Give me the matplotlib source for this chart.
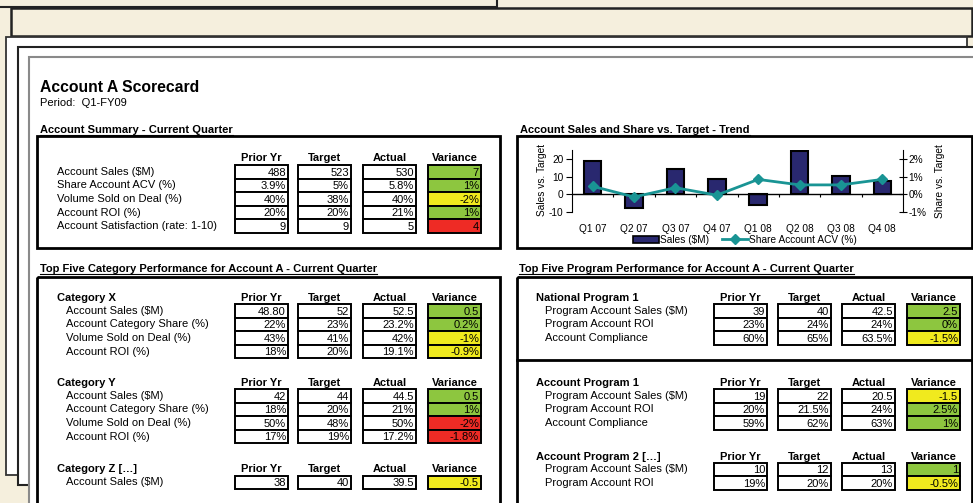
import matplotlib
matplotlib.use("Agg")
import matplotlib.pyplot as plt
from matplotlib.patches import Rectangle
from matplotlib.lines import Line2D
import numpy as np

plt.rcParams['font.family'] = ['Liberation Sans', 'DejaVu Sans']
plt.rcParams['axes.unicode_minus'] = False

# ---------------- data ----------------
col_names = ["Prior Yr", "Target", "Actual", "Variance"]

summary_labels = ["Account Sales ($M)", "Share Account ACV (%)", "Volume Sold on Deal (%)",
                  "Account ROI (%)", "Account Satisfaction (rate: 1-10)"]
summary_prior = ["488", "3.9%", "40%", "20%", "9"]
summary_target = ["523", "5%", "38%", "20%", "9"]
summary_actual = ["530", "5.8%", "40%", "21%", "5"]
summary_variance = ["7", "1%", "-2%", "1%", "4"]
summary_status = ["g", "g", "y", "g", "r"]

catx_labels = ["Account Sales ($M)", "Account Category Share (%)", "Volume Sold on Deal (%)", "Account ROI (%)"]
catx_prior = ["48.80", "22%", "43%", "18%"]
catx_target = ["52", "23%", "41%", "20%"]
catx_actual = ["52.5", "23.2%", "42%", "19.1%"]
catx_variance = ["0.5", "0.2%", "-1%", "-0.9%"]
catx_status = ["g", "g", "y", "y"]

caty_labels = ["Account Sales ($M)", "Account Category Share (%)", "Volume Sold on Deal (%)", "Account ROI (%)"]
caty_prior = ["42", "18%", "50%", "17%"]
caty_target = ["44", "20%", "48%", "19%"]
caty_actual = ["44.5", "21%", "50%", "17.2%"]
caty_variance = ["0.5", "1%", "-2%", "-1.8%"]
caty_status = ["g", "g", "r", "r"]

catz_labels = ["Account Sales ($M)"]
catz_prior = ["38"]
catz_target = ["40"]
catz_actual = ["39.5"]
catz_variance = ["-0.5"]
catz_status = ["y"]

np1_labels = ["Program Account Sales ($M)", "Program Account ROI", "Account Compliance"]
np1_prior = ["39", "23%", "60%"]
np1_target = ["40", "24%", "65%"]
np1_actual = ["42.5", "24%", "63.5%"]
np1_variance = ["2.5", "0%", "-1.5%"]
np1_status = ["g", "g", "y"]

ap1_labels = ["Program Account Sales ($M)", "Program Account ROI", "Account Compliance"]
ap1_prior = ["19", "20%", "59%"]
ap1_target = ["22", "21.5%", "62%"]
ap1_actual = ["20.5", "24%", "63%"]
ap1_variance = ["-1.5", "2.5%", "1%"]
ap1_status = ["y", "g", "g"]

ap2_labels = ["Program Account Sales ($M)", "Program Account ROI"]
ap2_prior = ["10", "19%"]
ap2_target = ["12", "20%"]
ap2_actual = ["13", "20%"]
ap2_variance = ["1", "-0.5%"]
ap2_status = ["g", "y"]

quarters = ["Q1 07", "Q2 07", "Q3 07", "Q4 07", "Q1 08", "Q2 08", "Q3 08", "Q4 08"]
sales_vs_target = [19, -7.5, 14.5, 8.5, -6, 24.5, 10.5, 7.5]
share_vs_target = [0.45, -0.15, 0.37, -0.05, 0.84, 0.53, 0.53, 0.84]

# ---------------- layout ----------------
W, H = 973, 503
CREAM = '#F5EFDD'
fig = plt.figure(figsize=(W / 100, H / 100), dpi=100)
fig.patch.set_facecolor(CREAM)
bg = fig.add_axes([0, 0, 1, 1])
bg.set_xlim(0, W)
bg.set_ylim(H, 0)
bg.axis('off')


def rect(x0, y0, x1, y1, fc='none', ec='k', lw=1.0, z=1):
    bg.add_patch(Rectangle((x0, y0), x1 - x0, y1 - y0, facecolor=fc, edgecolor=ec,
                           linewidth=lw, zorder=z))


# stacked paper sheets
rect(-20, -20, 497, 7, fc=CREAM, ec='#222222', lw=1.5, z=1)
rect(11, 8, 972, 36, fc=CREAM, ec='#222222', lw=1.8, z=2)
rect(6, 37, 967, 475, fc='white', ec='#333333', lw=1.3, z=3)
rect(18, 47, 1000, 485, fc='white', ec='#222222', lw=1.5, z=4)
rect(29, 57, 1000, 600, fc='white', ec='#8a8a8a', lw=1.5, z=5)

FS = 8
renderer = fig.canvas.get_renderer()


def header(x, y, s):
    t = bg.text(x, y, s, fontsize=FS, fontweight='bold', ha='left', va='center', zorder=10)
    bb = t.get_window_extent(renderer=renderer)
    bg.plot([x, x + bb.width], [y + 4.5, y + 4.5], color='black', lw=0.8, zorder=10)


bg.text(40, 87, "Account A Scorecard", fontsize=11.3, fontweight='bold', ha='left', va='center', zorder=10)
bg.text(40, 103, "Period:  Q1-FY09", fontsize=FS, ha='left', va='center', zorder=10)

header(40, 130, "Account Summary - Current Quarter")
header(520, 130, "Account Sales and Share vs. Target - Trend")
header(40, 269, "Top Five Category Performance for Account A - Current Quarter")
header(519, 269, "Top Five Program Performance for Account A - Current Quarter")

# section boxes
rect(37, 136, 500, 248, lw=2, z=6)
rect(517, 136, 972, 248, lw=2, z=6)
rect(37, 277, 500, 560, lw=2, z=6)
rect(517, 277, 972, 560, lw=2, z=6)
bg.plot([517, 972], [360, 360], color='black', lw=2, zorder=6)

COLS_L = [235, 298, 363, 428]
COLS_R = [714, 778, 842, 907]
CELL_W = 53
ROW_H = 13.6
status_colors = {'g': '#8DC63F', 'y': '#F0EA1E', 'r': '#EE2B25'}


def table(cols, header_y, row_top, label_x, labels, prior, target, actual, variance, status,
          title=None, title_x=None):
    if title:
        bg.text(title_x, header_y, title, fontsize=FS, fontweight='bold', ha='left', va='center', zorder=10)
    for c, name in zip(cols, col_names):
        bg.text(c + CELL_W / 2, header_y, name, fontsize=FS, fontweight='bold', ha='center',
                va='center', zorder=10)
    for i, lab in enumerate(labels):
        y0 = row_top + i * ROW_H
        bg.text(label_x, y0 + ROW_H / 2, lab, fontsize=FS, ha='left', va='center', zorder=10)
        for j, (c, vals) in enumerate(zip(cols, [prior, target, actual, variance])):
            fc = status_colors[status[i]] if j == 3 else 'white'
            rect(c, y0, c + CELL_W, y0 + ROW_H, fc=fc, ec='black', lw=1.4, z=7)
            bg.text(c + CELL_W - 2, y0 + ROW_H / 2 + 0.8, vals[i], fontsize=FS, ha='right',
                    va='center', zorder=10)


table(COLS_L, 158, 165, 57, summary_labels, summary_prior, summary_target, summary_actual,
      summary_variance, summary_status)
table(COLS_L, 298, 304, 66, catx_labels, catx_prior, catx_target, catx_actual, catx_variance,
      catx_status, "Category X", 57)
table(COLS_L, 383, 389, 66, caty_labels, caty_prior, caty_target, caty_actual, caty_variance,
      caty_status, "Category Y", 57)
table(COLS_L, 469, 475.5, 66, catz_labels, catz_prior, catz_target, catz_actual, catz_variance,
      catz_status, "Category Z [\u2026]", 57)
table(COLS_R, 298, 304, 545, np1_labels, np1_prior, np1_target, np1_actual, np1_variance,
      np1_status, "National Program 1", 536)
table(COLS_R, 383, 389, 545, ap1_labels, ap1_prior, ap1_target, ap1_actual, ap1_variance,
      ap1_status, "Account Program 1", 536)
table(COLS_R, 457, 462.5, 545, ap2_labels, ap2_prior, ap2_target, ap2_actual, ap2_variance,
      ap2_status, "Account Program 2 [\u2026]", 536)

# ---------------- trend chart ----------------
NAVY = '#29286F'
TEAL = '#199494'
ax = fig.add_axes([572 / W, 1 - 212 / H, (903 - 572) / W, (212 - 150) / H])
ax.set_facecolor('none')
x = np.arange(len(quarters))
ax.bar(x, sales_vs_target, width=0.42, color=NAVY, edgecolor='black', linewidth=1.5, zorder=3)
ax.axhline(0, color='black', lw=1, zorder=4)
ax.vlines(x[:-1] + 0.5, -1.6, 0, color='black', lw=0.8, zorder=4)
ax.set_xlim(-0.5, len(quarters) - 0.5)
ax.set_ylim(-10, 25)
ax.set_yticks([-10, 0, 10, 20])
ax.set_xticks(x)
ax.set_xticklabels(quarters)
for s in ['top', 'bottom', 'right']:
    ax.spines[s].set_visible(False)
ax.spines['left'].set_linewidth(0.8)
ax.tick_params(axis='x', length=0, pad=9, labelsize=7.3)
ax.tick_params(axis='y', length=4, width=0.8, pad=2, labelsize=7.3, direction='out')

ax2 = ax.twinx()
ax2.plot(x, share_vs_target, color=TEAL, lw=2, marker='D', ms=5.5, zorder=5)
ax2.set_ylim(-1, 2.5)
ax2.set_yticks([-1, 0, 1, 2])
ax2.set_yticklabels([f"{v}%" for v in [-1, 0, 1, 2]])
for s in ['top', 'bottom', 'left']:
    ax2.spines[s].set_visible(False)
ax2.spines['right'].set_linewidth(0.8)
ax2.tick_params(axis='y', length=6, width=0.8, pad=1, labelsize=7.3, direction='inout')

bg.text(542, 180, "Sales vs. Target", rotation=90, fontsize=7.3, ha='center', va='center', zorder=10)
bg.text(940, 181, "Share vs. Target", rotation=90, fontsize=7.3, ha='center', va='center', zorder=10)

handles = [Rectangle((0, 0), 1, 1, facecolor=NAVY, edgecolor='black', linewidth=1.2),
           Line2D([0], [0], color=TEAL, lw=2, marker='D', ms=5)]
fig.legend(handles, ["Sales ($M)", "Share Account ACV (%)"], ncol=2, loc='center',
           bbox_to_anchor=(745 / W, 1 - 240 / H), frameon=False, fontsize=7.3,
           handlelength=2.5, handletextpad=0.15, columnspacing=1.3, borderpad=0)

fig.savefig("out.png", dpi=100, facecolor=fig.get_facecolor())
